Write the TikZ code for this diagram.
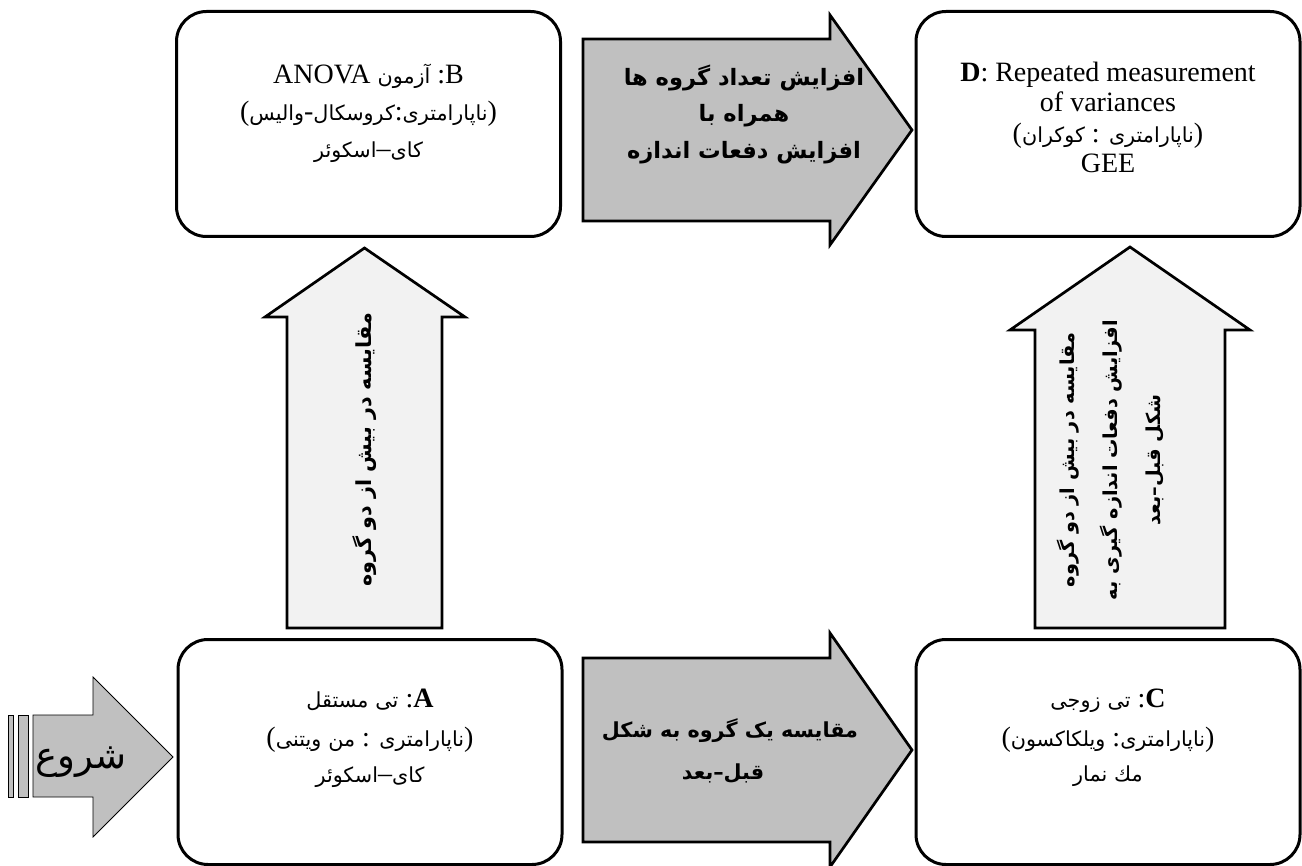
\documentclass[tikz,border=0pt]{standalone}
\usepackage{fontspec}
\setmainfont{Liberation Serif}
\newfontfamily\fa[Script=Arabic,Scale=0.74]{DejaVu Sans}
\TeXXeTstate=1
\definecolor{agray}{HTML}{C0C0C0}
\definecolor{lgray}{HTML}{F2F2F2}
\newcommand{\pw}[1]{\hbox{\fa #1}}
\begin{document}
\begin{tikzpicture}[x=1pt,y=-1pt,
  box/.style={draw, line width=3pt, rounded corners=30pt, minimum width=384pt, minimum height=225pt, fill=white, inner sep=0pt},
  harrow/.style={draw, line width=2.7pt, fill=agray, line join=miter},
  varrow/.style={draw, line width=2.7pt, fill=lgray, line join=miter},
  sarrow/.style={draw, line width=0.8pt, fill=agray, line join=miter},
  tx/.style={inner sep=0pt, anchor=base, font=\fontsize{28}{34}\selectfont},
  atx/.style={inner sep=0pt, anchor=base, font=\fontsize{30.5}{34}\selectfont\fa\bfseries},
  vtx/.style={inner sep=0pt, anchor=center, rotate=90, align=center, font=\fontsize{28}{43}\selectfont\fa\bfseries}
]
\useasboundingbox (0,0) rectangle (1302,866);

% boxes
\node[box] (B) at (368.5,124) {};
\node[box] (D) at (1108,124) {};
\node[box] (A) at (370,752) {};
\node[box] (C) at (1108,752) {};

% block arrows
\draw[harrow] (583,39) -- (830,39) -- (830,15) -- (912,130) -- (830,245) -- (830,221) -- (583,221) -- cycle;
\draw[harrow] (583,658) -- (830,658) -- (830,633) -- (912,750) -- (830,867) -- (830,842) -- (583,842) -- cycle;
\draw[varrow] (287,628) -- (287,317) -- (265,317) -- (364.5,248) -- (465,317) -- (442,317) -- (442,628) -- cycle;
\draw[varrow] (1035,628) -- (1035,330) -- (1010,330) -- (1130,247) -- (1250,330) -- (1225,330) -- (1225,628) -- cycle;

% start arrow
\draw[sarrow] (8,715) rectangle (13,797);
\draw[sarrow] (18,715) rectangle (28,797);
\draw[sarrow] (33,715) -- (93,715) -- (93,677) -- (173,757) -- (93,837) -- (93,797) -- (33,797) -- cycle;
\node[inner sep=0pt, anchor=base, font=\fontsize{50}{56}\selectfont\fa] (start) at (81,768) {شروع};

% box B text
\node[tx] (B1) at (368.5,84) {ANOVA \pw{آزمون} :B};
\node[tx] (B2) at (368.5,121) {(\pw{والیس}-\pw{کروسکال}:\pw{ناپارامتری})};
\node[tx] (B3) at (368.5,158) {\pw{اسکوئر}–\pw{کای}};

% box D text
\node[tx] (D1) at (1108,82) {\textbf{D}: Repeated measurement};
\node[tx] (D2) at (1108,112) {of variances};
\node[tx] (D3) at (1108,143) {(\pw{کوکران} : \pw{ناپارامتری})};
\node[tx] (D4) at (1108,173) {GEE};

% box A text
\node[tx] (A1) at (370,707) {\pw{مستقل} \pw{تی} :\textbf{A}};
\node[tx] (A2) at (370,746) {(\pw{ویتنی} \pw{من} : \pw{ناپارامتری})};
\node[tx] (A3) at (370,782) {\pw{اسکوئر}–\pw{کای}};

% box C text
\node[tx] (C1) at (1108,707) {\pw{زوجی} \pw{تی} :\textbf{C}};
\node[tx] (C2) at (1108,746) {(\pw{ویلکاکسون} :\pw{ناپارامتری})};
\node[tx] (C3) at (1108,781) {\pw{نمار} \pw{مك}};

% top arrow text
\node[atx] (T1) at (744,86) {\beginR افزایش تعداد گروه ها\endR};
\node[atx] (T2) at (744,122) {\beginR همراه با\endR};
\node[atx] (T3) at (744,159) {\beginR افزایش دفعات اندازه\endR};

% bottom arrow text
\node[atx, font=\fontsize{28}{34}\selectfont\fa\bfseries] (L1) at (730,737) {\beginR مقایسه یک گروه به شکل\endR};
\node[atx, font=\fontsize{28}{34}\selectfont\fa\bfseries] (L2) at (723,779) {\beginR قبل–بعد\endR};

% vertical arrow texts
\node[vtx] (V1) at (364.5,450) {\beginR مقایسه در بیش از دو گروه\endR};
\node[vtx, font=\fontsize{26}{43}\selectfont\fa\bfseries] (V2) at (1110,460) {\beginR مقایسه در بیش از دو گروه\endR\\ \beginR افزایش دفعات اندازه گیری به\endR\\ \beginR شکل قبل–بعد\endR};
\end{tikzpicture}
\end{document}
